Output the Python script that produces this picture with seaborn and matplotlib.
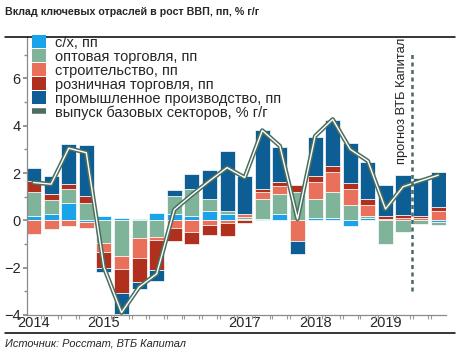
import numpy as np
import matplotlib
matplotlib.use("Agg")
import matplotlib.pyplot as plt
import seaborn as sns
from matplotlib.lines import Line2D
from matplotlib.patches import Patch

# ---------------- data ----------------
quarters = ["2014Q1", "2014Q2", "2014Q3", "2014Q4",
            "2015Q1", "2015Q2", "2015Q3", "2015Q4",
            "2016Q1", "2016Q2", "2016Q3", "2016Q4",
            "2017Q1", "2017Q2", "2017Q3", "2017Q4",
            "2018Q1", "2018Q2", "2018Q3", "2018Q4",
            "2019Q1", "2019Q2", "2019Q3", "2019Q4"]

agriculture = [0.20, 0.25, 0.72, -0.07, 0.20, 0.10, 0.05, 0.30,
               0.25, 0.20, 0.40, 0.28, 0.05, 0.04, 0.27, 0.00,
               0.10, 0.10, -0.25, 0.10, 0.00, 0.00, 0.00, -0.07]
wholesale = [1.00, 0.60, 0.60, 0.72, -0.95, -1.50, -0.75, -0.70,
             0.77, 1.12, 0.49, 0.10, 0.08, 0.87, 0.86, 1.20,
             0.81, 1.08, 0.66, 0.07, -1.00, -0.50, -0.15, -0.13]
construction = [-0.57, -0.36, -0.22, -0.25, -0.37, -0.57, -0.84, -0.14,
                -0.34, -0.48, -0.20, -0.12, 0.12, 0.30, 0.31, -0.86,
                0.73, 0.85, 0.66, 0.49, 0.05, 0.08, 0.10, 0.39]
retail = [0.45, 0.25, 0.21, 0.33, -0.70, -1.00, -1.00, -1.26,
          -0.52, -0.52, -0.42, -0.53, -0.12, 0.10, 0.18, 0.31,
          0.24, 0.28, 0.24, 0.25, 0.15, 0.14, 0.10, 0.17]
industry = [0.55, 0.76, 1.69, 2.12, -0.18, -0.90, -0.32, -0.47,
            0.28, 0.63, 1.23, 2.57, 1.62, 2.50, 1.50, -0.56,
            1.65, 1.93, 1.70, 1.57, 1.28, 1.68, 1.60, 1.50]
base_output = [1.60, 1.53, 3.05, 2.86, -1.98, -3.90, -2.82, -2.26,
               0.45, 1.08, 1.67, 2.23, 1.81, 3.80, 3.14, 0.06,
               3.56, 4.27, 3.00, 2.51, 0.48, 1.42, 1.67, 1.91]

series_names = ["с/х, пп", "оптовая торговля, пп", "строительство, пп",
                "розничная торговля, пп", "промышленное производство, пп"]
line_name = "выпуск базовых секторов, % г/г"

year_tick_labels = ["2014", "2015", "2017", "2018", "2019"]
year_tick_quarters = ["2014Q1", "2015Q1", "2017Q1", "2018Q1", "2019Q1"]
forecast_after = "2019Q2"
forecast_label = "прогноз ВТБ Капитал"

title = "Вклад ключевых отраслей в рост ВВП, пп, % г/г"
source = "Источник: Росстат, ВТБ Капитал"

# ---------------- style ----------------
colors = ["#1ba3ea", "#7fb49b", "#e9705a", "#b1301d", "#0d5e95"]
line_outer = "#4b6e5e"

sns.set_theme(style="white")
plt.rcParams["font.family"] = ["Liberation Sans", "DejaVu Sans"]

W, H = 471, 356
fig = plt.figure(figsize=(W / 100, H / 100), dpi=100)
ax = fig.add_axes([27 / W, 1 - 315 / H, (446 - 27) / W, (315 - 37) / H])

x = np.arange(len(quarters))
pos_bottom = np.zeros(len(quarters))
neg_bottom = np.zeros(len(quarters))
for name, vals, col in zip(series_names,
                           [agriculture, wholesale, construction, retail, industry],
                           colors):
    v = np.array(vals, dtype=float)
    bottoms = np.where(v >= 0, pos_bottom, neg_bottom)
    ax.bar(x, v, bottom=bottoms, width=0.86, color=col,
           edgecolor="white", linewidth=0.5, zorder=2)
    pos_bottom += np.clip(v, 0, None)
    neg_bottom += np.clip(v, None, 0)

sns.lineplot(x=x, y=base_output, ax=ax, color=line_outer, lw=3.2,
             zorder=4, legend=False)
sns.lineplot(x=x, y=base_output, ax=ax, color="white", lw=1.0,
             zorder=5, legend=False)

# forecast marker
fpos = quarters.index(forecast_after) + 0.5
ax.vlines(fpos, -3.0, 7.05, colors="#4a6a60", linestyles=(0, (1.6, 1.4)),
          lw=1.8, zorder=6, clip_on=False)
ax.text(fpos - 0.55, 2.38, forecast_label, rotation=90, ha="center",
        va="bottom", fontsize=9.3, color="#222222", clip_on=False)

# axes
ax.set_xlim(-0.37, 23.44)
ax.set_ylim(-4, 7.75)
ax.set_yticks([-4, -2, 0, 2, 4, 6])
ax.set_yticks([-3, -1, 1, 3, 5, 7], minor=True)
ax.set_xticks([quarters.index(q) for q in year_tick_quarters])
ax.set_xticklabels(year_tick_labels)
ax.set_xticks(np.concatenate([x[:-1] + 0.42, x[:-1] + 0.58]), minor=True)
for s in ["top", "right"]:
    ax.spines[s].set_visible(False)
for s in ["left", "bottom"]:
    ax.spines[s].set_color("#8a8a8a")
    ax.spines[s].set_linewidth(0.9)
ax.tick_params(axis="y", which="major", direction="out", length=3,
               color="#8a8a8a", labelsize=10.5, pad=1.5, left=True)
ax.tick_params(axis="y", which="minor", direction="out", length=2,
               color="#8a8a8a", left=True)
ax.tick_params(axis="x", which="major", length=0, labelsize=10.5, pad=1)
ax.tick_params(axis="x", which="minor", direction="out", length=3,
               color="#9a9a9a", width=0.8, bottom=True)
ax.grid(False)

# legend
handles = [Patch(facecolor=c, edgecolor="none") for c in colors]
handles.append(Line2D([0], [0], color=line_outer, lw=4,
                      solid_capstyle="butt"))
fig.legend(handles, series_names + [line_name], loc="upper left",
           bbox_to_anchor=(32 / W, 1 - 35.3 / H), frameon=False,
           fontsize=10.5, handlelength=0.95, handleheight=0.95,
           labelspacing=-0.02, handletextpad=0.65, borderaxespad=0,
           borderpad=0)

# title, rules, source
fig.text(5 / W, 1 - 12 / H, title, fontsize=7.7, fontweight="bold",
         va="center", ha="left")
fig.add_artist(Line2D([5 / W, 455 / W], [1 - 37 / H] * 2, color="black",
                      lw=1.1, transform=fig.transFigure))
fig.add_artist(Line2D([5 / W, 455 / W], [1 - 333 / H] * 2, color="black",
                      lw=1.1, transform=fig.transFigure))
fig.text(5 / W, 1 - 343 / H, source, fontsize=7.9, style="italic",
         va="center", ha="left")

fig.savefig("out.png", dpi=100)
